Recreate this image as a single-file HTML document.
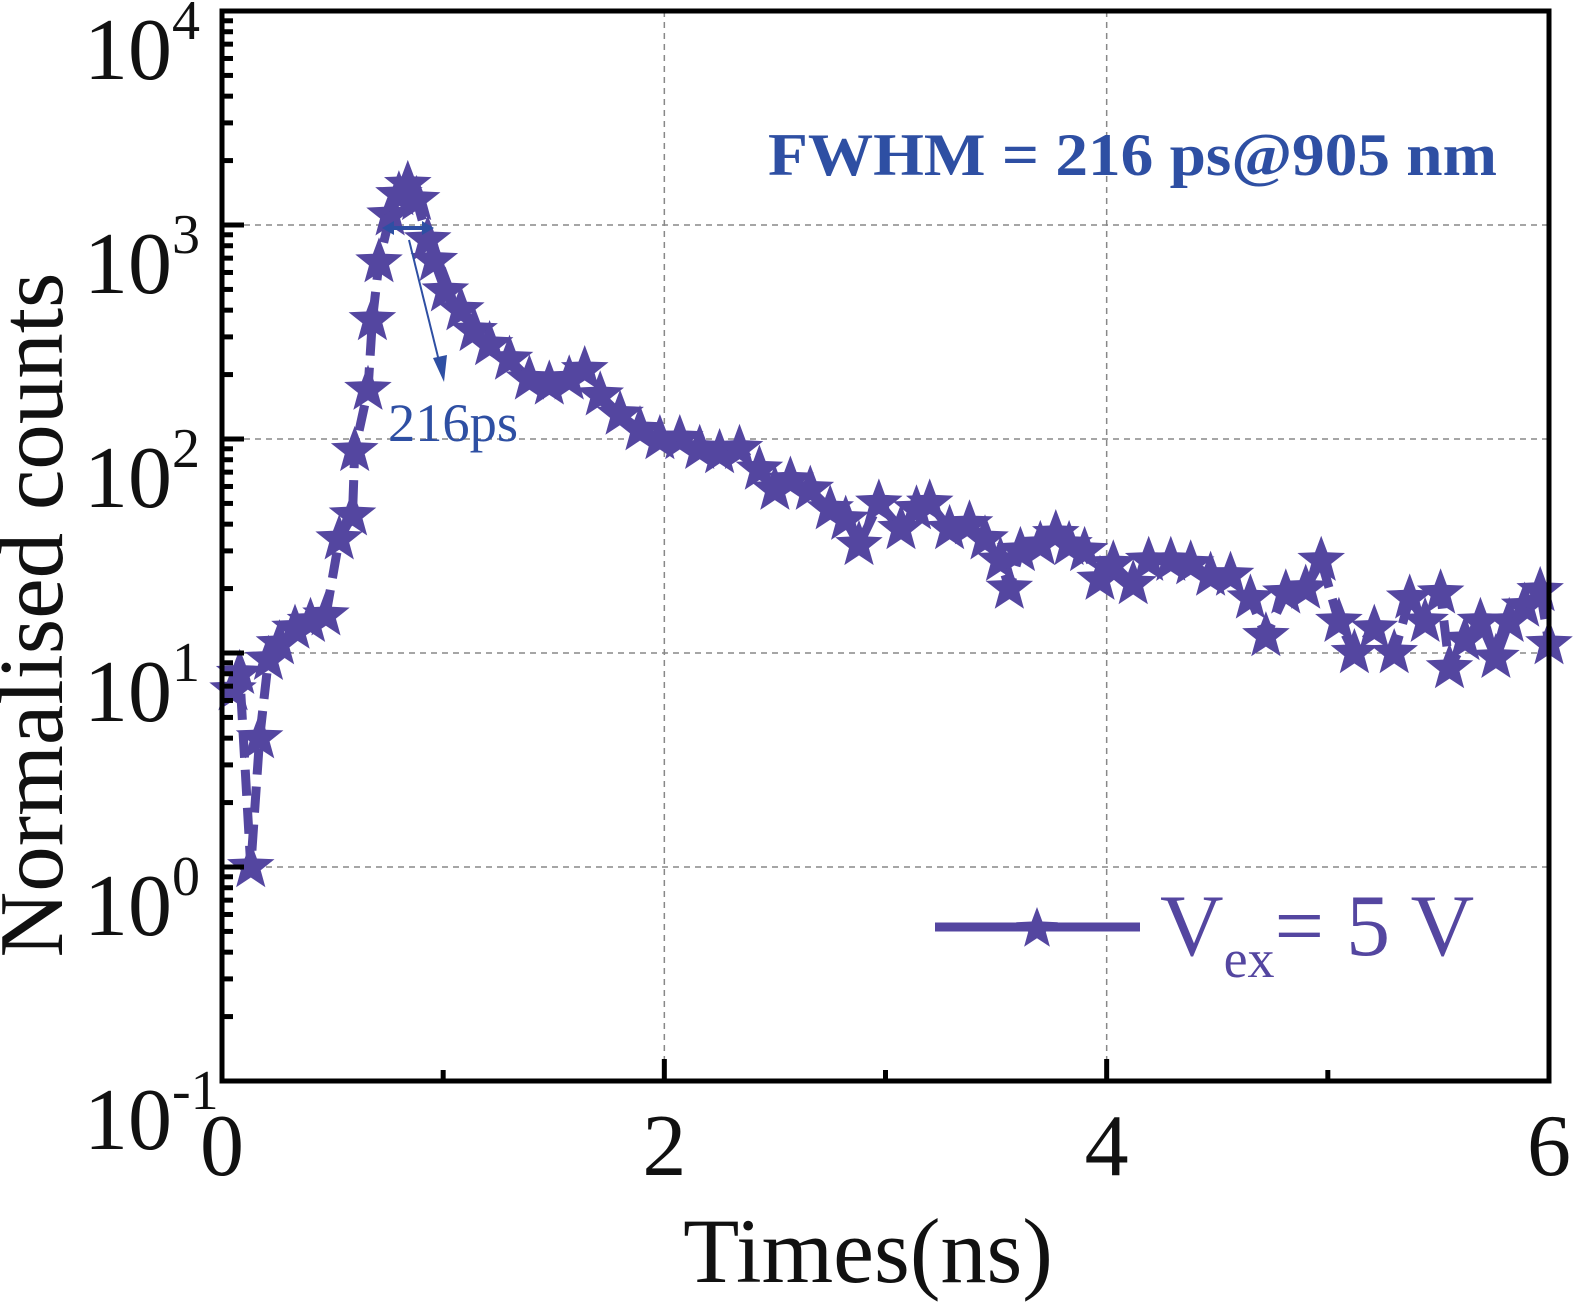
<!DOCTYPE html>
<html><head><meta charset="utf-8"><style>
html,body{margin:0;padding:0;background:#fff;}
svg{display:block;font-family:"Liberation Serif",serif;}
</style></head><body>
<svg id="chart" width="1575" height="1304" viewBox="0 0 1575 1304">
<g id="grid"></g>
<g id="series"></g>
<g id="axes"></g>
<text x="768" y="175" font-size="60" font-weight="bold" fill="#2e4fa3" textLength="729" lengthAdjust="spacingAndGlyphs">FWHM = 216 ps@905 nm</text>
<g>
<line x1="388" y1="228" x2="428" y2="228" stroke="#2e4fa3" stroke-width="4"/>
<polygon points="382,228 394,221 394,235" fill="#2e4fa3"/>
<polygon points="434,228 422,221 422,235" fill="#2e4fa3"/>
<line x1="409" y1="240" x2="440" y2="365" stroke="#2e4fa3" stroke-width="2"/>
<polygon points="444,382 433,358 447,355" fill="#2e4fa3"/>
</g>
<text x="388" y="441" font-size="54" fill="#2e4fa3" textLength="130" lengthAdjust="spacingAndGlyphs">216ps</text>
<g>
<line x1="935" y1="927" x2="1140" y2="927" stroke="#5446a0" stroke-width="9"/>
<polygon id="legstar" fill="#5446a0"/>
<text x="1160" y="955" font-size="88" fill="#5446a0">V<tspan font-size="54" dy="22">ex</tspan><tspan dy="-22">= 5 V</tspan></text>
</g>
<text x="868" y="1282" font-size="92" text-anchor="middle" fill="#111">Times(ns)</text>
<text transform="translate(62,615) rotate(-90)" font-size="91" text-anchor="middle" fill="#111">Normalised counts</text>
</svg>
<script>
const times=[0.05,0.08,0.13,0.17,0.21,0.26,0.33,0.40,0.47,0.53,0.59,0.60,0.66,0.68,0.71,0.76,0.80,0.84,0.88,0.93,0.96,1.01,1.08,1.14,1.21,1.30,1.39,1.48,1.57,1.64,1.71,1.80,1.89,1.98,2.07,2.16,2.25,2.34,2.43,2.50,2.57,2.66,2.75,2.82,2.88,2.97,3.07,3.14,3.20,3.29,3.38,3.45,3.52,3.56,3.61,3.70,3.77,3.83,3.90,3.97,4.03,4.12,4.19,4.29,4.38,4.47,4.56,4.65,4.72,4.81,4.90,4.97,5.05,5.12,5.21,5.30,5.37,5.44,5.51,5.55,5.62,5.69,5.76,5.82,5.89,5.96,6.0];
const counts=[6.7,8,1.0,4,9.3,11,13,14,15,34,44,88,170,360,670,1110,1380,1540,1310,850,680,490,400,320,275,235,190,180,190,210,160,130,110,100,100,90,86,90,72,58,64,58,47,42,32,50,38,47,50,38,40,34,27,20,30,32,36,32,30,22,26,21,27,27,26,23,23,18,12,19,20,27,14,10,13,10,18,14,19,8.5,11.5,14,9.5,14,16.5,19.5,11];
const xTicks=[0,2,4,6];
const yExps=[-1,0,1,2,3,4];
const NS='http://www.w3.org/2000/svg';
const X0=222,X1=1549,Y0=1081,Y1=11;
const xs=t=>X0+(X1-X0)*t/6;
const ys=v=>Y0-(Y0-Y1)*(Math.log10(v)+1)/5;
function mk(tag,attrs,parent){const e=document.createElementNS(NS,tag);for(const k in attrs)e.setAttribute(k,attrs[k]);parent.appendChild(e);return e;}
function star(cx,cy,r){let p=[];for(let i=0;i<10;i++){const a=-Math.PI/2+i*Math.PI/5;const rr=i%2?r*0.42:r;p.push((cx+rr*Math.cos(a)).toFixed(1)+','+(cy+rr*Math.sin(a)).toFixed(1));}return p.join(' ');}
const grid=document.getElementById('grid'),axes=document.getElementById('axes'),ser=document.getElementById('series');
yExps.forEach(e=>{if(e>-1&&e<4){const g=mk('line',{x1:X0,x2:X1,y1:ys(Math.pow(10,e)),y2:ys(Math.pow(10,e)),stroke:'#888','stroke-width':1.5,'stroke-dasharray':'6,5'},grid);}});
xTicks.forEach(t=>{if(t>0&&t<6){const g=mk('line',{x1:xs(t),x2:xs(t),y1:Y1,y2:Y0,stroke:'#888','stroke-width':1.5,'stroke-dasharray':'6,5'},grid);}});
let d='';times.forEach((t,i)=>{d+=(i?'L':'M')+xs(t).toFixed(1)+','+ys(counts[i]).toFixed(1);});
const ln=mk('path',{d:d,fill:'none',stroke:'#5446a0','stroke-width':9,'stroke-dasharray':'26,12','stroke-linejoin':'round'},ser);


times.forEach((t,i)=>{const s=mk('polygon',{points:star(xs(t),ys(counts[i]),25),fill:'#5446a0'},ser);

});
document.getElementById('legstar').setAttribute('points',star(1037,929,22));
const fr=mk('rect',{x:X0,y:Y1,width:X1-X0,height:Y0-Y1,fill:'none',stroke:'#000','stroke-width':5},axes);


yExps.forEach(e=>{const y=ys(Math.pow(10,e));
 if(e<4) for(let m=2;m<=9;m++){const yy=ys(m*Math.pow(10,e));mk('line',{x1:X0,x2:X0+11,y1:yy,y2:yy,stroke:'#000','stroke-width':5},axes);}
 mk('line',{x1:X0,x2:X0+22,y1:y,y2:y,stroke:'#000','stroke-width':5},axes);
 const tx=mk('text',{x:172,y:y+68,'font-size':88,'text-anchor':'end',fill:'#111'},axes);
 tx.textContent='10';
 
 
 const sp=mk('text',{x:172,y:y+28,'font-size':56,fill:'#111'},axes);sp.textContent=String(e);
 
 
});
xTicks.forEach(t=>{const x=xs(t);mk('line',{x1:x,x2:x,y1:Y0,y2:Y0-22,stroke:'#000','stroke-width':5},axes);
 if(t<6)mk('line',{x1:xs(t+1),x2:xs(t+1),y1:Y0,y2:Y0-11,stroke:'#000','stroke-width':5},axes);
 const tx=mk('text',{x:x,y:1175,'font-size':88,'text-anchor':'middle',fill:'#111'},axes);tx.textContent=String(t);
 
 });
</script>
</body></html>
